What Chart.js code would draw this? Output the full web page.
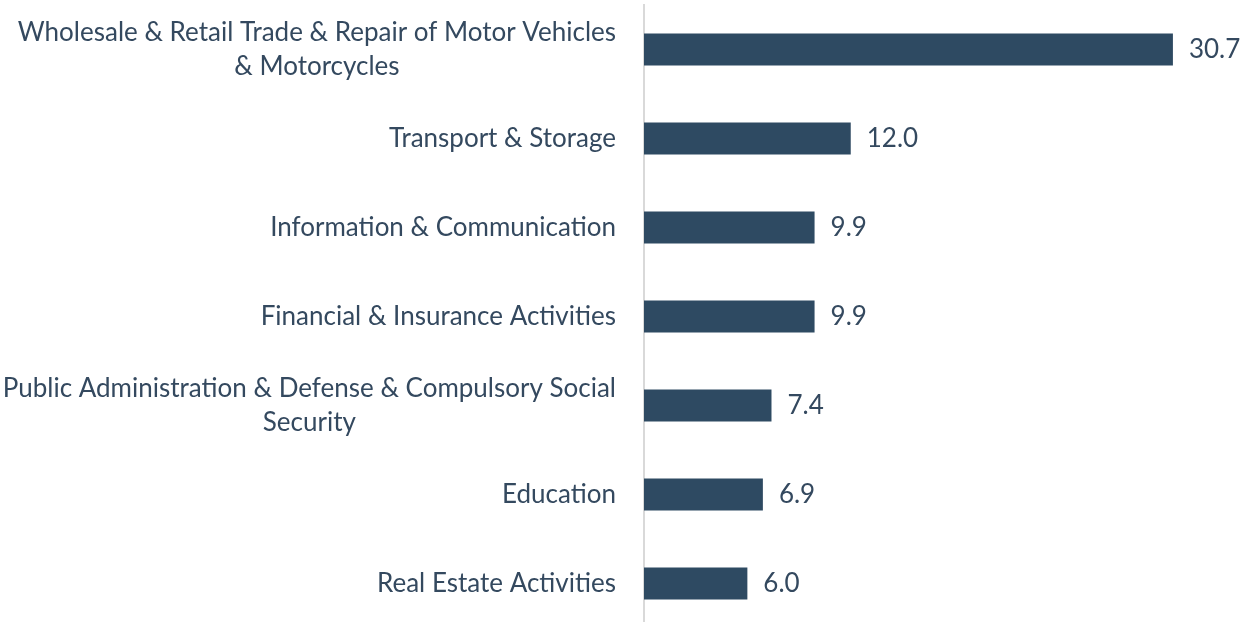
<!DOCTYPE html>
<html>
<head>
<meta charset="utf-8">
<script src="https://cdn.jsdelivr.net/npm/chart.js@4.4.1/dist/chart.umd.min.js"></script>
<style>
    html, body { margin: 0; padding: 0; background: #fff; overflow: hidden; }
    #wrap { width: 1247px; height: 628px; position: relative; }
</style>
</head>
<body>
<div id="wrap"><canvas id="sectorChart"></canvas></div>
<script>
const categories = [
    ['Wholesale & Retail Trade & Repair of Motor Vehicles', '& Motorcycles'],
    ['Transport & Storage'],
    ['Information & Communication'],
    ['Financial & Insurance Activities'],
    ['Public Administration & Defense & Compulsory Social', 'Security'],
    ['Education'],
    ['Real Estate Activities']
];
const shareValues = [30.7, 12.0, 9.9, 9.9, 7.4, 6.9, 6.0];

const barColor = '#2e4a62';
const textColor = '#34495f';
const fontFamily = 'Lato, "Open Sans", sans-serif';
const fontSize = 26;
const labelRight = 616;
const lineHeight = 34;

// category labels: right-aligned block, lines centred inside the block (like Excel)
const categoryLabels = {
    id: 'categoryLabels',
    afterDraw(chart) {
        const ctx = chart.ctx;
        const yScale = chart.scales.y;
        ctx.save();
        ctx.font = `${fontSize}px ${fontFamily}`;
        ctx.fillStyle = textColor;
        ctx.textAlign = 'center';
        ctx.textBaseline = 'middle';
        categories.forEach((lines, i) => {
            const maxW = Math.max(...lines.map(l => ctx.measureText(l).width));
            const cx = labelRight - maxW / 2;
            const cy = yScale.getPixelForValue(i);
            const y0 = cy - (lines.length - 1) * lineHeight / 2;
            lines.forEach((line, j) => ctx.fillText(line, cx, y0 + j * lineHeight));
        });
        ctx.restore();
    }
};

// value labels to the right of each bar
const valueLabels = {
    id: 'valueLabels',
    afterDatasetsDraw(chart) {
        const ctx = chart.ctx;
        const meta = chart.getDatasetMeta(0);
        ctx.save();
        ctx.font = `${fontSize}px ${fontFamily}`;
        ctx.fillStyle = textColor;
        ctx.textAlign = 'left';
        ctx.textBaseline = 'middle';
        meta.data.forEach((bar, i) => {
            ctx.fillText(shareValues[i].toFixed(1), bar.x + 16, bar.y);
        });
        ctx.restore();
    }
};

const ctx = document.getElementById('sectorChart').getContext('2d');
new Chart(ctx, {
    type: 'bar',
    data: {
        labels: categories.map(c => c.join(' ')),
        datasets: [{
            data: shareValues,
            backgroundColor: barColor,
            borderWidth: 0,
            categoryPercentage: 1,
            barPercentage: 0.36
        }]
    },
    options: {
        indexAxis: 'y',
        responsive: true,
        maintainAspectRatio: false,
        animation: false,
        layout: { padding: { top: 5, right: 0, bottom: 0, left: 0 } },
        plugins: {
            legend: { display: false },
            tooltip: { enabled: false }
        },
        scales: {
            x: {
                display: false,
                min: 0,
                max: 35
            },
            y: {
                grid: { display: false },
                border: { display: true, color: '#d9d9d9', width: 2 },
                ticks: { display: false },
                afterFit(scale) { scale.width = 644; }
            }
        }
    },
    plugins: [categoryLabels, valueLabels]
});
</script>
</body>
</html>
